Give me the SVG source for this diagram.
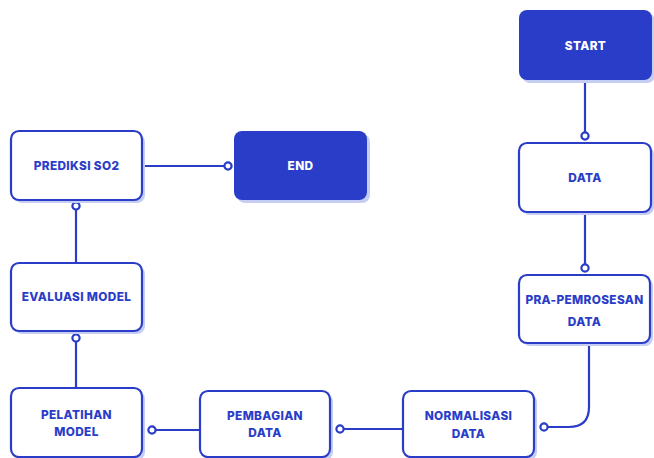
<svg xmlns="http://www.w3.org/2000/svg" width="654" height="458" viewBox="0 0 654 458">
<style>
.sh{fill:#c5cef2}
.box{fill:#ffffff;stroke:#2a3dc8;stroke-width:2.2}
.solid{fill:#2a3dc8}
.t{font-family:Inter,"Liberation Sans",sans-serif;font-weight:800;font-size:11.8px;fill:#2a3dc8;text-anchor:middle;letter-spacing:0.35px}
.tw{fill:#ffffff}
.c{fill:none;stroke:#2a3dc8;stroke-width:2.2}
.dot{fill:#ffffff;stroke:#2a3dc8;stroke-width:2.2}
</style>
<rect width="654" height="458" fill="#ffffff"/>
<g id="connectors">
<line class="c" x1="585" y1="80" x2="585" y2="132"/>
<circle class="dot" cx="585" cy="136" r="3.6"/>
<line class="c" x1="585" y1="212" x2="585" y2="264"/>
<circle class="dot" cx="585" cy="268" r="3.6"/>
<path class="c" d="M589 344 V407 Q589 427 569 427 H548"/>
<circle class="dot" cx="544" cy="427" r="3.6"/>
<line class="c" x1="403" y1="429" x2="343.6" y2="429"/>
<circle class="dot" cx="340" cy="429" r="3.6"/>
<line class="c" x1="200" y1="430" x2="155.6" y2="430"/>
<circle class="dot" cx="152" cy="430" r="3.6"/>
<line class="c" x1="76" y1="388" x2="76" y2="341.6"/>
<circle class="dot" cx="76" cy="338" r="3.6"/>
<line class="c" x1="76" y1="263" x2="76" y2="209.6"/>
<circle class="dot" cx="76" cy="206" r="3.6"/>
<line class="c" x1="142" y1="166" x2="224.4" y2="166"/>
<circle class="dot" cx="228" cy="166" r="3.6"/>
</g>
<g id="start">
<rect class="sh" x="522" y="13" width="133" height="70" rx="8"/>
<rect class="solid" x="519" y="10" width="133" height="70" rx="8"/>
<text class="t tw" x="585.5" y="49.5">START</text>
</g>
<g id="data">
<rect class="sh" x="522" y="146" width="132" height="69" rx="8"/>
<rect class="box" x="519" y="143" width="132" height="69" rx="8"/>
<text class="t" x="585" y="181.5">DATA</text>
</g>
<g id="pra">
<rect class="sh" x="522" y="278" width="131" height="68" rx="8"/>
<rect class="box" x="519" y="275" width="131" height="68" rx="8"/>
<text class="t" x="584.5" y="304">PRA-PEMROSESAN</text>
<text class="t" x="584.5" y="325.5">DATA</text>
</g>
<g id="normalisasi">
<rect class="sh" x="406" y="394" width="131" height="66" rx="8"/>
<rect class="box" x="403" y="391" width="131" height="66" rx="8"/>
<text class="t" x="468.5" y="420">NORMALISASI</text>
<text class="t" x="468.5" y="437.5">DATA</text>
</g>
<g id="pembagian">
<rect class="sh" x="203" y="394" width="130" height="66" rx="8"/>
<rect class="box" x="200" y="391" width="130" height="66" rx="8"/>
<text class="t" x="265" y="419.5">PEMBAGIAN</text>
<text class="t" x="265" y="437">DATA</text>
</g>
<g id="pelatihan">
<rect class="sh" x="14" y="391" width="131" height="69" rx="8"/>
<rect class="box" x="11" y="388" width="131" height="69" rx="8"/>
<text class="t" x="76.5" y="419">PELATIHAN</text>
<text class="t" x="76.5" y="436">MODEL</text>
</g>
<g id="evaluasi">
<rect class="sh" x="14" y="266" width="131" height="68" rx="8"/>
<rect class="box" x="11" y="263" width="131" height="68" rx="8"/>
<text class="t" x="76.5" y="301">EVALUASI MODEL</text>
</g>
<g id="prediksi">
<rect class="sh" x="14" y="134" width="131" height="69" rx="8"/>
<rect class="box" x="11" y="131" width="131" height="69" rx="8"/>
<text class="t" x="76.5" y="170">PREDIKSI SO2</text>
</g>
<g id="end">
<rect class="sh" x="237" y="134" width="133" height="69" rx="8"/>
<rect class="solid" x="234" y="131" width="133" height="69" rx="8"/>
<text class="t tw" x="300.5" y="170">END</text>
</g>
</svg>
